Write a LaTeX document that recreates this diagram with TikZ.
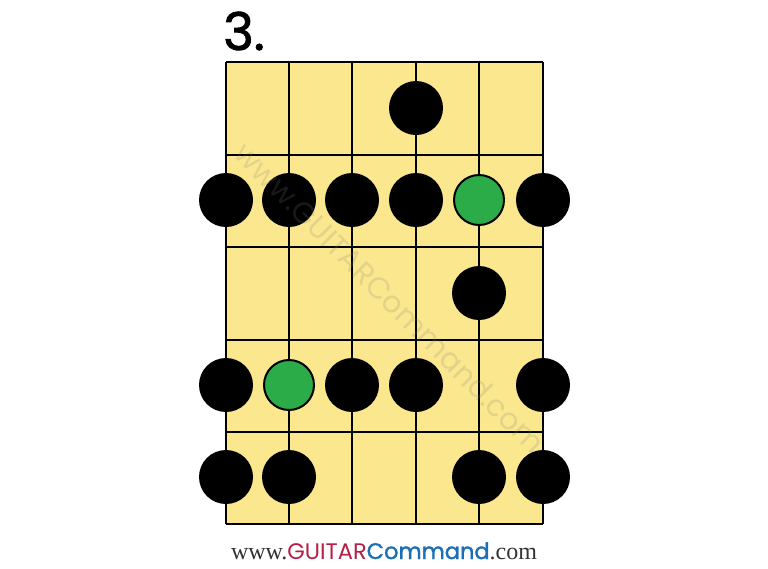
\documentclass[tikz,border=0pt]{standalone}
\usepackage{fontspec}
\setmainfont{Liberation Serif}
\newfontfamily\titlefont[FakeBold=1.6]{Poppins}
\newfontfamily\wmfont{Poppins}
\newfontfamily\gcfont{Poppins}
\newfontfamily\gcboldfont[FakeBold=1.4]{Poppins}
\definecolor{fretyellow}{HTML}{FBE88E}
\definecolor{rootgreen}{HTML}{2BAC48}
\definecolor{gcred}{HTML}{B81E44}
\definecolor{gcblue}{HTML}{1B6FB6}
\definecolor{wmcol}{HTML}{808080}
\definecolor{urlgray}{HTML}{333333}
\tikzset{
  gridline/.style={line width=2.6pt, black},
  note/.style={circle, fill=black, minimum size=54pt, inner sep=0pt},
  root/.style={circle, fill=rootgreen, draw=black, line width=2pt, minimum size=50pt, inner sep=0pt},
}
\begin{document}
\begin{tikzpicture}[x=1pt,y=-1pt]
\useasboundingbox (0,0) rectangle (768,568);
\fill[white] (0,0) rectangle (768,568);
% fretboard
\fill[fretyellow] (226,62) rectangle (543,524);
% strings
\foreach \x in {226,289,352,416,479,543} \draw[gridline] (\x,62) -- (\x,524);
% frets
\foreach \y in {62,155,247,340,432,524} \draw[gridline] (226,\y) -- (543,\y);
% title
\node[font=\titlefont\fontsize{52}{52}\selectfont, anchor=base west, inner sep=0pt] (title) at (223,50) {3.};
% dots
\node[note] (r1s4) at (416,108) {};
\node[note] (r2s1) at (226,200) {};
\node[note] (r2s2) at (289,200) {};
\node[note] (r2s3) at (352,200) {};
\node[note] (r2s4) at (416,200) {};
\node[root] (r2s5) at (479,200) {};
\node[note] (r2s6) at (543,200) {};
\node[note] (r3s5) at (479,293) {};
\node[note] (r4s1) at (226,385) {};
\node[root] (r4s2) at (289,385) {};
\node[note] (r4s3) at (352,385) {};
\node[note] (r4s4) at (416,385) {};
\node[note] (r4s6) at (543,385) {};
\node[note] (r5s1) at (226,477) {};
\node[note] (r5s2) at (289,477) {};
\node[note] (r5s5) at (479,477) {};
\node[note] (r5s6) at (543,477) {};
% watermark
\node[rotate=-45, text=wmcol, text opacity=0.2, font=\wmfont\fontsize{30}{30}\selectfont] (wm) at (390,298) {www.GUITARCommand.com};
% url
\node[anchor=base, inner sep=0pt] (url) at (384,559) {\fontsize{24}{24}\selectfont\textcolor{urlgray}{www.}{\gcfont\fontsize{22.5}{22.5}\selectfont\textcolor{gcred}{GUITAR}\textcolor{gcblue}{\gcboldfont Command}}\textcolor{urlgray}{.com}};
\end{tikzpicture}
\end{document}
